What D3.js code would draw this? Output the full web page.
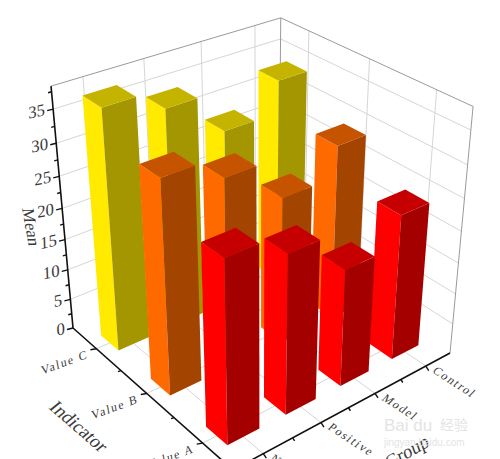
<!DOCTYPE html>
<html>
<head>
<meta charset="utf-8">
<script src="https://cdn.jsdelivr.net/npm/d3@7/dist/d3.min.js"></script>
<style>
  html, body { margin: 0; padding: 0; background: #fff; overflow: hidden; }
  text { font-family: "Liberation Serif", serif; fill: #3a3a3a; }
</style>
</head>
<body>
<svg id="chart" width="500" height="459"></svg>
<script>
// front to back along each axis, the way the bars get painted
const groups = ['Normal', 'Positive', 'Model', 'Control'];
const indicators = ['Value A', 'Value B', 'Value C'];
const meanTicks = [0, 5, 10, 15, 20, 25, 30, 35];

const valueA = [28.1, 24.9, 18.7, 23.3];
const valueB = [33.2, 29.9, 23.6, 28.3];
const valueC = [37.8, 34.8, 28.5, 33.4];
const seriesValues = [valueA, valueB, valueC];

const topColors = ['#c60000', '#c65300', '#c4b400'];
const leftColors = ['#ff0000', '#ff6a00', '#ffea00'];
const rightColors = ['#a50000', '#a34400', '#a39600'];

const svg = d3.select('#chart');

const uScale = d3.scaleBand().domain(groups).range([0, 1]).paddingInner(0.46).paddingOuter(0.23);
const vScale = d3.scaleBand().domain(indicators).range([0, 1]).paddingInner(0.64).paddingOuter(0.32);
const zScale = d3.scaleLinear().domain([0, 38.3]).range([0, 1]);

// perspective map, fitted by hand from the three vanishing points of the box
function project(u, v, z) {
  const x = 233 + 278.4 * u - 147.7 * v - 31.95 * z;
  const y = 470 - 68.9 * u - 86.8 * v - 293.2 * z;
  const w = 1 + 0.1364 * u + 0.1682 * v - 0.1229 * z;
  return [x / w, y / w];
}
const line = d3.line();
const uMid = g => uScale(g) + uScale.bandwidth() / 2;
const vMid = i => vScale(i) + vScale.bandwidth() / 2;

const grid = svg.append('g').attr('fill', 'none');
function gridLine(a, b, color) {
  grid.append('path').attr('d', line([project(...a), project(...b)]))
    .attr('stroke', color).attr('stroke-width', 1);
}

// grid on floor and the two back walls
groups.forEach(g => {
  gridLine([uMid(g), 0, 0], [uMid(g), 1, 0], '#d6d6d6');
  gridLine([uMid(g), 1, 0], [uMid(g), 1, 1], '#d6d6d6');
});
indicators.forEach(i => {
  gridLine([0, vMid(i), 0], [1, vMid(i), 0], '#d6d6d6');
  gridLine([1, vMid(i), 0], [1, vMid(i), 1], '#d6d6d6');
});
meanTicks.slice(1).forEach(t => {
  gridLine([0, 1, zScale(t)], [1, 1, zScale(t)], '#d6d6d6');
  gridLine([1, 1, zScale(t)], [1, 0, zScale(t)], '#d6d6d6');
});
gridLine([0, 1, 1], [1, 1, 1], '#9a9a9a');
gridLine([1, 1, 1], [1, 0, 1], '#9a9a9a');
gridLine([1, 0, 0], [1, 0, 1], '#9a9a9a');
gridLine([1, 1, 0], [1, 1, 1], '#9a9a9a');

// bars, back row first
const rows = d3.range(indicators.length).reverse().flatMap(r =>
  groups.map((g, c) => ({ g, c, r, i: indicators[r], value: seriesValues[r][c] })).reverse()
);
const bars = svg.append('g').selectAll('g').data(rows).join('g');
const face = pts => line(pts.map(p => project(...p))) + 'Z';
function corners(d) {
  const u0 = uScale(d.g), u1 = u0 + uScale.bandwidth();
  const v0 = vScale(d.i), v1 = v0 + vScale.bandwidth();
  return { u0, u1, v0, v1, z: zScale(d.value) };
}
bars.append('path').attr('fill', d => leftColors[d.r]).attr('d', d => {
  const { u0, v0, v1, z } = corners(d);
  return face([[u0, v1, 0], [u0, v0, 0], [u0, v0, z], [u0, v1, z]]);
});
bars.append('path').attr('fill', d => rightColors[d.r]).attr('d', d => {
  const { u0, u1, v0, z } = corners(d);
  return face([[u0, v0, 0], [u1, v0, 0], [u1, v0, z], [u0, v0, z]]);
});
bars.append('path').attr('fill', d => topColors[d.r]).attr('d', d => {
  const { u0, u1, v0, v1, z } = corners(d);
  return face([[u0, v0, z], [u1, v0, z], [u1, v1, z], [u0, v1, z]]);
});

// axes
const axes = svg.append('g');
function axisLine(a, b) {
  axes.append('path').attr('d', line([project(...a), project(...b)]))
    .attr('stroke', '#111').attr('stroke-width', 1.6).attr('fill', 'none');
}
axisLine([0, 1, 0], [0, 1, 1]);
axisLine([0, 1, 0], [0, 0, 0]);
axisLine([0, 0, 0], [1, 0, 0]);

function tick(from, dx, dy) {
  const p = project(...from);
  axes.append('path').attr('d', line([p, [p[0] + dx, p[1] + dy]]))
    .attr('stroke', '#111').attr('stroke-width', 1.4).attr('fill', 'none');
}
d3.range(0, 38, 2.5).forEach(t => {
  const major = t % 5 === 0;
  tick([0, 1, zScale(t)], major ? -6 : -3.5, major ? 1.5 : 1);
});
d3.range(0.5, 3).forEach(n => tick([0, n / 3, 0], -6, 1));
d3.range(1, 3).forEach(n => tick([0, n / 3, 0], -3, 1));
d3.range(0.5, 4).forEach(n => tick([n / 4, 0, 0], 3, 4.5));
d3.range(1, 4).forEach(n => tick([n / 4, 0, 0], 2, 3));

function label(str, x, y, rot, size, anchor, spacing) {
  axes.append('text').attr('transform', `translate(${x},${y}) rotate(${rot}) skewX(-10)`)
    .attr('text-anchor', anchor).attr('font-size', size)
    .attr('letter-spacing', spacing || 0).text(str);
}
meanTicks.forEach(t => {
  const p = project(0, 1, zScale(t));
  label(t, p[0] - 8, p[1] + 6, -12, 17, 'end');
});
indicators.forEach(i => {
  const p = project(0, vMid(i), 0);
  label(i, p[0] - 8, p[1] + 9, -20, 12, 'end', 1.6);
});
groups.forEach(g => {
  const p = project(uMid(g), 0, 0);
  label(g, p[0] + 6, p[1] + 6, 33, 12, 'start', 1.6);
});
label('Mean', 22, 208, 80, 17, 'start');
label('Indicator', 48, 408, 41, 19, 'start');
label('Group', 388, 470, -30, 19, 'start');

// site watermark in the lower right corner
const mark = svg.append('g').attr('fill-opacity', 1);
mark.append('text').attr('x', 384).attr('y', 431).attr('font-size', 17)
  .style('font-family', '"Liberation Sans"').style('fill', '#e4e4e4').text('Bai du');
mark.append('text').attr('x', 440).attr('y', 430).attr('font-size', 14)
  .style('font-family', '"Noto Sans CJK SC"').style('fill', '#e4e4e4').text('经验');
mark.append('text').attr('x', 384).attr('y', 446).attr('font-size', 10)
  .style('font-family', '"Liberation Sans"').style('fill', '#e4e4e4').text('jingyan.baidu.com');
</script>
</body>
</html>
